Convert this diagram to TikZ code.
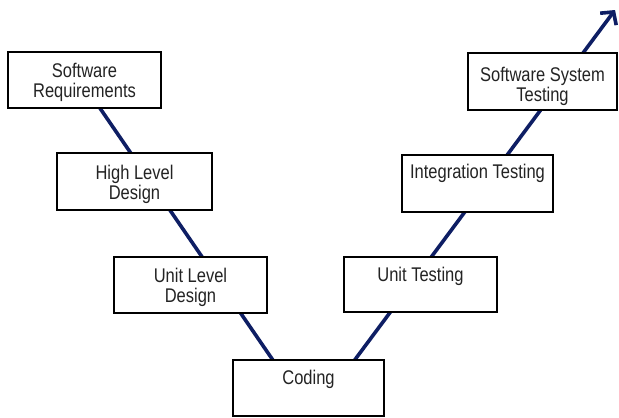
\documentclass[tikz,border=0pt]{standalone}
\usepackage{fontspec}
\usepackage{graphicx}
\setmainfont{Liberation Sans}
\usetikzlibrary{arrows.meta}
\definecolor{vline}{RGB}{14,30,100}
\definecolor{txt}{RGB}{35,35,35}
\newcommand{\vtext}[1]{\scalebox{1}[1.2]{\begin{tabular}[t]{@{}c@{}}#1\end{tabular}}}
\begin{document}
\begin{tikzpicture}[x=1pt,y=-1pt,
  vbox/.style={draw=black, line width=2pt, fill=white, rectangle, inner sep=0pt},
  vlabel/.style={anchor=base, inner sep=0pt, text=txt, font=\fontsize{16.5}{16.7}\selectfont},
  vconn/.style={draw=vline, line width=3.6pt}]
\useasboundingbox (0,0) rectangle (619,418);
% V line behind the boxes
\coordinate (l0) at (93,98);
\coordinate (l1) at (279,369);
\coordinate (r0) at (348,369);
\coordinate (r1) at (615,10);
\draw[vconn] (l0) -- (l1);
\draw[vconn, -{Straight Barb[length=9pt,width=20pt]}] (r0) -- (r1);
% boxes
\node[vbox, minimum width=153pt, minimum height=56pt] (sr) at (84.5,80) {};
\node[vbox, minimum width=155pt, minimum height=57pt] (hld) at (134.5,181.5) {};
\node[vbox, minimum width=153pt, minimum height=56pt] (uld) at (190.5,285) {};
\node[vbox, minimum width=151pt, minimum height=56pt] (cod) at (308.5,388) {};
\node[vbox, minimum width=153pt, minimum height=55pt] (ut) at (420.5,284.5) {};
\node[vbox, minimum width=151pt, minimum height=57pt] (it) at (477.5,183.5) {};
\node[vbox, minimum width=149pt, minimum height=57pt] (sst) at (542.5,81.5) {};
% labels
\node[vlabel] (srt) at (84.5,77) {\vtext{Software\\Requirements}};
\node[vlabel] (hldt) at (134.5,179) {\vtext{High Level\\Design}};
\node[vlabel] (uldt) at (190.5,282) {\vtext{Unit Level\\Design}};
\node[vlabel] (codt) at (308.5,384) {\vtext{Coding}};
\node[vlabel] (utt) at (420.5,281) {\vtext{Unit Testing}};
\node[vlabel] (itt) at (477.5,178) {\vtext{Integration Testing}};
\node[vlabel] (sstt) at (542.5,81) {\vtext{Software System\\Testing}};
\end{tikzpicture}
\end{document}
